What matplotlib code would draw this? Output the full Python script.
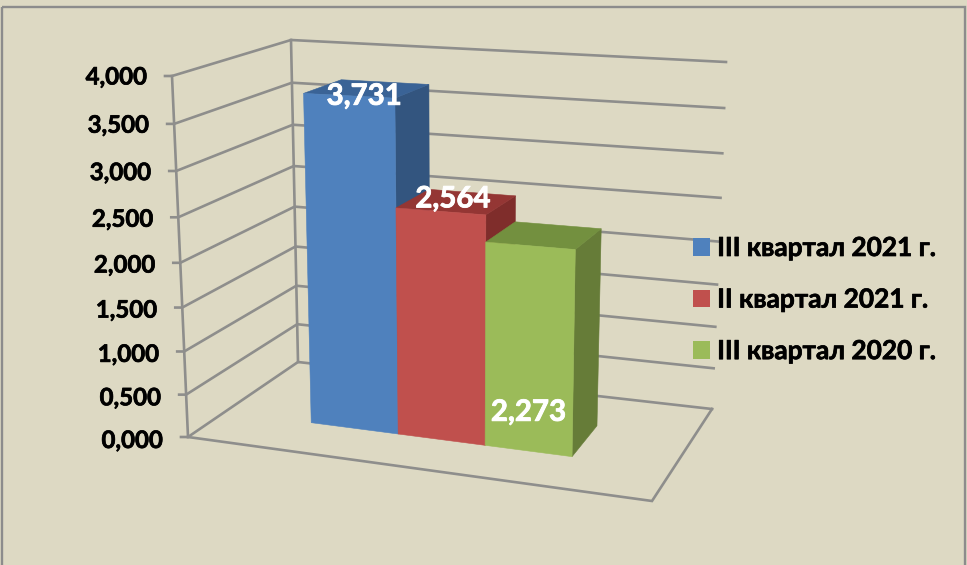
import matplotlib
matplotlib.use("Agg")
import matplotlib.pyplot as plt
import matplotlib.patheffects as pe
from matplotlib.patches import Polygon, Patch, Rectangle

# Data
series_names = ["III квартал 2021 г.", "II квартал 2021 г.", "III квартал 2020 г."]
series_values = [3.731, 2.564, 2.273]
y_ticks = [0.0, 0.5, 1.0, 1.5, 2.0, 2.5, 3.0, 3.5, 4.0]
y_max = 4.0

# Style
BG = "#DDD9C3"
GRID = "#8E8E8C"
FRONT = ["#4F81BD", "#C0504D", "#9BBB59"]
SIDE = ["#33557F", "#7F2D2B", "#667C38"]
TOP = ["#3A6396", "#943634", "#73903F"]
FONT = "Lato"

# 3D box projected to the figure: corners of floor and of the 4,000 level
F00, F10, F01, F11 = (188, 437), (652, 501), (298, 362), (712, 409)
T00, T10, T01, T11 = (172, 76), (662, 98), (291, 40), (726, 62)

def bil(a, b, c, d, u, v):
    return tuple((1-u)*(1-v)*a[i] + u*(1-v)*b[i] + (1-u)*v*c[i] + u*v*d[i] for i in (0, 1))

def proj(u, v, val):
    t = val / y_max
    h = t * (0.93 + 0.07 * t)
    f = bil(F00, F10, F01, F11, u, v)
    g = bil(T00, T10, T01, T11, u, v)
    return (f[0] + (g[0]-f[0])*h, f[1] + (g[1]-f[1])*h)

fig = plt.figure(figsize=(9.67, 5.65), dpi=100, facecolor=BG)
ax = fig.add_axes([0, 0, 1, 1])
ax.set_xlim(0, 967)
ax.set_ylim(565, 0)
ax.axis("off")

# Outer frame
ax.add_patch(Rectangle((1.5, 6.5), 963.5, 600, fill=False, ec="#8C8C8C", lw=1.7))

# Walls and floor
lw = 1.9
heavy_black = [pe.withStroke(linewidth=0.5, foreground="black")]
heavy_white = [pe.withStroke(linewidth=0.6, foreground="white")]
for val in y_ticks:
    a = proj(0, 0, val); b = proj(0, 1, val); c = proj(1, 1, val)
    ax.plot([a[0]-7, a[0], b[0], c[0]], [a[1], a[1], b[1], c[1]], color=GRID, lw=lw, solid_joinstyle="miter")
    ax.text(a[0]-25, a[1]+1+2.5*(1-val/y_max), f"{val:.3f}".replace(".", ","), ha="right", va="center",
            family=FONT, weight="bold", fontsize=17.3, color="black", path_effects=heavy_black)
for u, v in [(0, 0), (0, 1)]:
    a = proj(u, v, 0); b = proj(u, v, y_max)
    ax.plot([a[0], b[0]], [a[1], b[1]], color=GRID, lw=lw)
fl = [proj(1, 1, 0), proj(1, 0, 0), proj(0, 0, 0)]
ax.plot(*zip(*fl), color=GRID, lw=lw, solid_joinstyle="miter")

# Bars
u0, du = 0.192, 0.1945
v0, v1 = 0.34, 0.69
label_offsets = [(15, 1), (12, -12), (-2, 167)]
for i, val in enumerate(series_values):
    ua, ub = u0 + i*du, u0 + (i+1)*du
    front = [proj(ua, v0, 0), proj(ub, v0, 0), proj(ub, v0, val), proj(ua, v0, val)]
    side = [proj(ub, v0, 0), proj(ub, v1, 0), proj(ub, v1, val), proj(ub, v0, val)]
    top = [proj(ua, v0, val), proj(ub, v0, val), proj(ub, v1, val), proj(ua, v1, val)]
    for pts, col in ((side, SIDE[i]), (top, TOP[i]), (front, FRONT[i])):
        ax.add_patch(Polygon(pts, closed=True, fc=col, ec=col, lw=0.4, zorder=3))
    cx, cy = proj((ua+ub)/2, v0, val)
    dx, dy = label_offsets[i]
    ax.text(cx+dx, cy+dy, f"{val:.3f}".replace(".", ","), ha="center", va="center", color="white",
            family=FONT, weight="bold", fontsize=21.2, zorder=5, path_effects=heavy_white)

# Legend
handles = [Patch(fc=c, ec="none") for c in FRONT]
leg = ax.legend(handles, series_names, loc="upper left", bbox_to_anchor=(693/967, 1-236/565),
          frameon=False, prop={"family": FONT, "weight": "bold", "size": 18.9},
          handlelength=0.65, handleheight=0.65, handletextpad=0.27,
          labelspacing=1.05, borderpad=0, borderaxespad=0)
for t in leg.get_texts():
    t.set_path_effects(heavy_black)

fig.savefig("out.png", dpi=100, facecolor=BG)
